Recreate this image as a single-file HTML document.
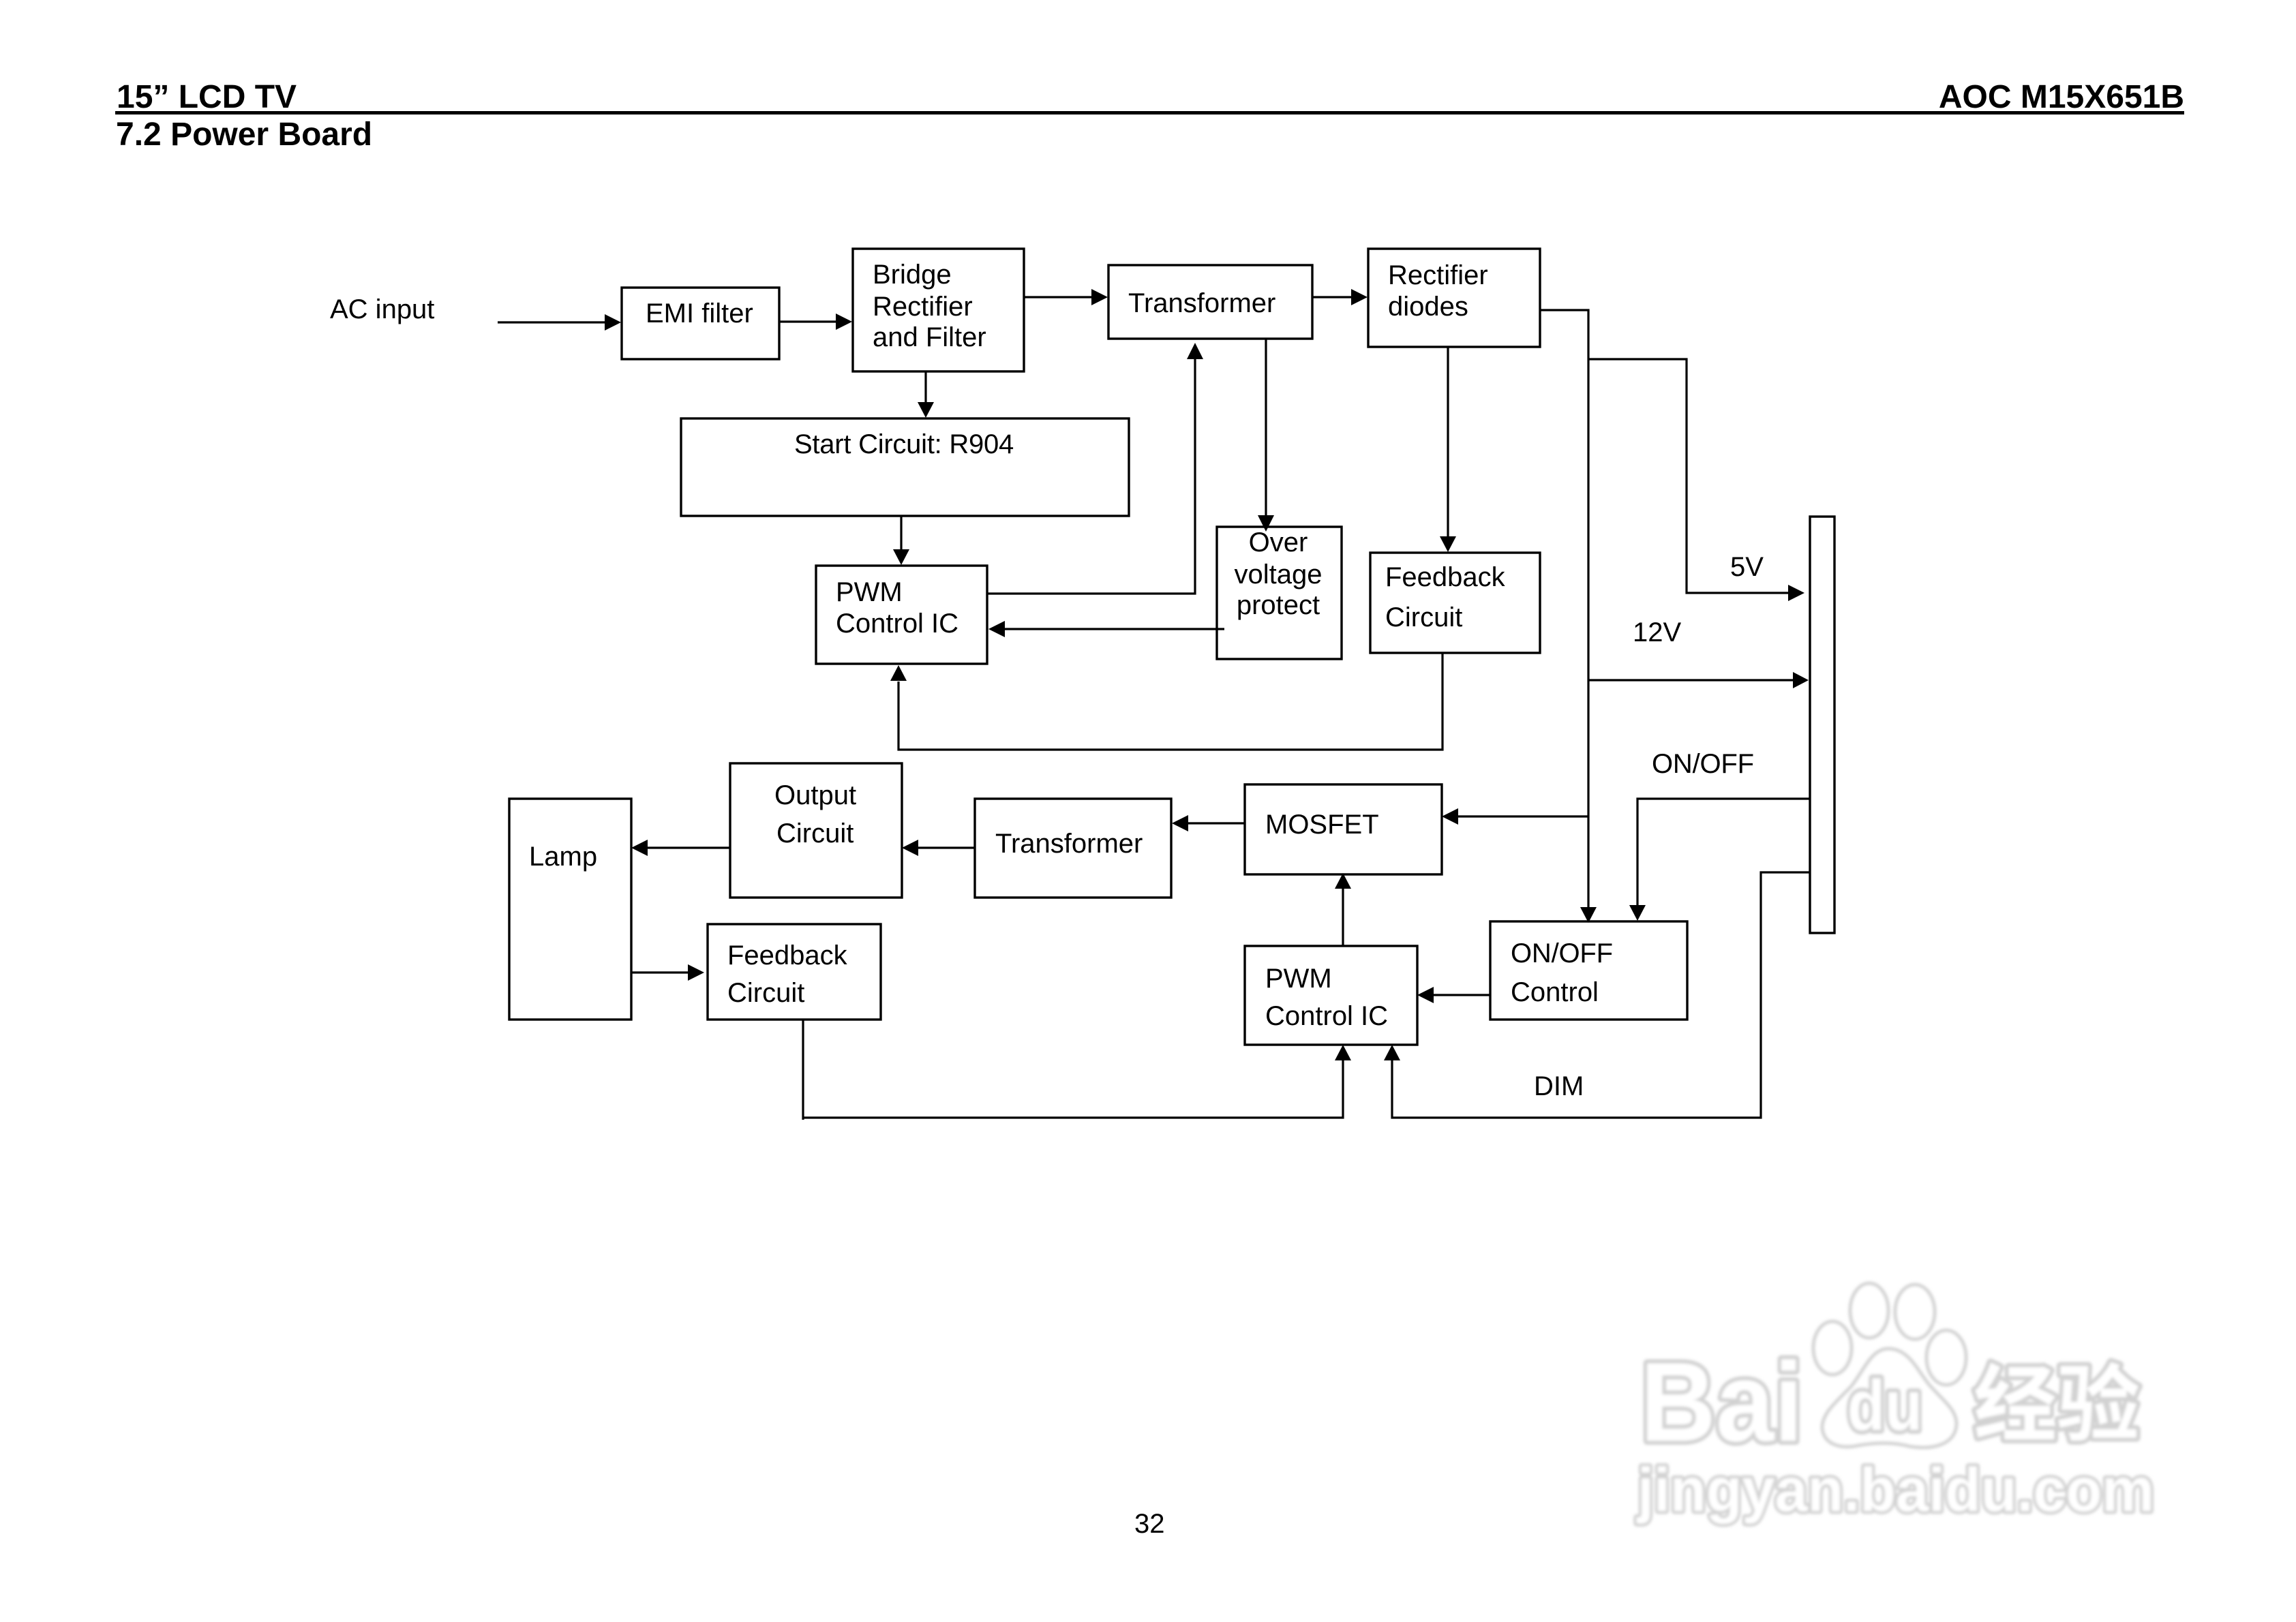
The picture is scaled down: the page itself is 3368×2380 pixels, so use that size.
<!DOCTYPE html>
<html>
<head>
<meta charset="utf-8">
<title>7.2 Power Board</title>
<style>
html,body{margin:0;padding:0;background:#fff;}
svg{display:block;}
text{font-family:"Liberation Sans",sans-serif;fill:#000;}
.t{font-size:40px;}
.h{font-size:48px;font-weight:bold;}
.b rect{fill:none;stroke:#000;stroke-width:3.4;}
.l path{fill:none;stroke:#000;stroke-width:3.2;}
.wm ellipse,.wm path{fill:#fff;stroke:#d2d2d2;stroke-width:5;}
.wm text{fill:#fff;stroke:#d2d2d2;stroke-width:12;stroke-linejoin:round;paint-order:stroke;}
.wm text.s{stroke-width:9;}
</style>
</head>
<body>
<svg width="3368" height="2380" viewBox="0 0 3368 2380" xmlns="http://www.w3.org/2000/svg">
<defs><filter id="bl" x="-5%" y="-5%" width="110%" height="110%"><feGaussianBlur stdDeviation="2.2"/></filter></defs>
<rect width="3368" height="2380" fill="#fff"/>

<!-- watermark -->
<g class="wm" filter="url(#bl)">
  <ellipse cx="2688" cy="1978" rx="28" ry="39"/>
  <ellipse cx="2742" cy="1923" rx="28" ry="40"/>
  <ellipse cx="2809" cy="1925" rx="29" ry="40"/>
  <ellipse cx="2855" cy="1992" rx="29" ry="40"/>
  <path d="M2770 1979 C2745 1979 2735 2010 2715 2035 C2690 2060 2673 2075 2673 2095 C2675 2120 2700 2125 2720 2122 C2745 2117 2775 2115 2800 2122 C2835 2128 2868 2120 2870 2090 C2870 2068 2850 2055 2830 2032 C2812 2010 2800 1979 2770 1979 Z"/>
  <text x="2406" y="2114" font-size="165" font-weight="bold" textLength="239" lengthAdjust="spacingAndGlyphs">Bai</text>
  <text x="2710" y="2098" font-size="104" font-weight="bold" textLength="110" lengthAdjust="spacingAndGlyphs">du</text>
  <text x="2895" y="2104" font-size="122" font-weight="bold" style="font-family:'Noto Sans CJK SC',sans-serif">经验</text>
  <text class="s" x="2402" y="2217" font-size="90" font-weight="bold" textLength="758" lengthAdjust="spacingAndGlyphs">jingyan.baidu.com</text>
</g>

<!-- header -->
<text class="h" x="171" y="158">15” LCD TV</text>
<text class="h" x="3204" y="158" text-anchor="end">AOC M15X651B</text>
<rect x="169" y="163" width="3035" height="5" fill="#000"/>
<text class="h" x="170" y="213">7.2 Power Board</text>

<!-- boxes -->
<g class="b">
  <rect x="912" y="422" width="231" height="105"/>
  <rect x="1251" y="365" width="251" height="180"/>
  <rect x="1626" y="389" width="299" height="108"/>
  <rect x="2007" y="365" width="252" height="144"/>
  <rect x="999" y="614" width="657" height="143"/>
  <rect x="1197" y="830" width="251" height="144"/>
  <rect x="1785" y="773" width="183" height="194"/>
  <rect x="2010" y="811" width="249" height="147"/>
  <rect x="2655" y="758" width="36" height="611"/>
  <rect x="1071" y="1120" width="252" height="197"/>
  <rect x="747" y="1172" width="179" height="324"/>
  <rect x="1430" y="1172" width="288" height="145"/>
  <rect x="1826" y="1151" width="289" height="132"/>
  <rect x="1038" y="1356" width="254" height="140"/>
  <rect x="1826" y="1388" width="253" height="145"/>
  <rect x="2186" y="1352" width="289" height="144"/>
</g>

<!-- connectors -->
<g class="l">
  <path d="M730 473H890"/>
  <path d="M1143 472H1230"/>
  <path d="M1503 436H1605"/>
  <path d="M1925 436H1990"/>
  <path d="M1358 545V595"/>
  <path d="M1322 757V810"/>
  <path d="M1449 871H1753V520"/>
  <path d="M1857 497V760"/>
  <path d="M1796 923H1470"/>
  <path d="M2124 509V795"/>
  <path d="M2116 958V1100H1318V1000"/>
  <path d="M2259 455H2330V1335"/>
  <path d="M2330 527H2474V870H2630"/>
  <path d="M2330 998H2635"/>
  <path d="M2330 1198H2135"/>
  <path d="M2655 1172H2402V1330"/>
  <path d="M2655 1280H2583V1640H2042V1555"/>
  <path d="M2186 1460H2100"/>
  <path d="M1970 1388V1300"/>
  <path d="M1826 1208H1740"/>
  <path d="M1430 1244H1345"/>
  <path d="M1071 1244H945"/>
  <path d="M926 1427H1012"/>
  <path d="M1178 1496V1643"/>
  <path d="M1178 1640H1970V1555"/>
</g>

<!-- arrowheads -->
<g fill="#000">
  <polygon points="887,461 911,473 887,485"/>
  <polygon points="1226,460 1250,472 1226,484"/>
  <polygon points="1601,424 1625,436 1601,448"/>
  <polygon points="1982,424 2006,436 1982,448"/>
  <polygon points="1346,590 1358,613 1370,590"/>
  <polygon points="1310,806 1322,829 1334,806"/>
  <polygon points="1741,527 1753,503 1765,527"/>
  <polygon points="1845,756 1857,780 1869,756"/>
  <polygon points="1474,911 1450,923 1474,935"/>
  <polygon points="2112,787 2124,810 2136,787"/>
  <polygon points="1306,999 1318,976 1330,999"/>
  <polygon points="2318,1331 2330,1354 2342,1331"/>
  <polygon points="2623,858 2647,870 2623,882"/>
  <polygon points="2630,986 2653,998 2630,1010"/>
  <polygon points="2139,1186 2115,1198 2139,1210"/>
  <polygon points="2390,1328 2402,1351 2414,1328"/>
  <polygon points="2030,1556 2042,1533 2054,1556"/>
  <polygon points="2103,1448 2079,1460 2103,1472"/>
  <polygon points="1958,1304 1970,1281 1982,1304"/>
  <polygon points="1743,1196 1719,1208 1743,1220"/>
  <polygon points="1347,1232 1323,1244 1347,1256"/>
  <polygon points="950,1232 926,1244 950,1256"/>
  <polygon points="1009,1415 1033,1427 1009,1439"/>
  <polygon points="1958,1556 1970,1533 1982,1556"/>
</g>

<!-- labels -->
<g class="t">
  <text class="t" x="484" y="467">AC input</text>
  <text class="t" x="947" y="473">EMI filter</text>
  <text class="t" x="1280" y="416">Bridge</text>
  <text class="t" x="1280" y="463">Rectifier</text>
  <text class="t" x="1280" y="508">and Filter</text>
  <text class="t" x="1655" y="458">Transformer</text>
  <text class="t" x="2036" y="417">Rectifier</text>
  <text class="t" x="2036" y="463">diodes</text>
  <text class="t" x="1165" y="665" letter-spacing="-0.25">Start Circuit: R904</text>
  <text class="t" x="1226" y="882">PWM</text>
  <text class="t" x="1226" y="928">Control IC</text>
  <text class="t" x="1875" y="809" text-anchor="middle">Over</text>
  <text class="t" x="1875" y="856" text-anchor="middle">voltage</text>
  <text class="t" x="1875" y="901" text-anchor="middle">protect</text>
  <text class="t" x="2032" y="860">Feedback</text>
  <text class="t" x="2032" y="919">Circuit</text>
  <text class="t" x="2538" y="845">5V</text>
  <text class="t" x="2395" y="941">12V</text>
  <text class="t" x="2423" y="1134" letter-spacing="-0.2">ON/OFF</text>
  <text class="t" x="1136" y="1180">Output</text>
  <text class="t" x="1139" y="1236">Circuit</text>
  <text class="t" x="776" y="1270">Lamp</text>
  <text class="t" x="1460" y="1251">Transformer</text>
  <text class="t" x="1856" y="1223">MOSFET</text>
  <text class="t" x="1067" y="1415">Feedback</text>
  <text class="t" x="1067" y="1470">Circuit</text>
  <text class="t" x="1856" y="1449">PWM</text>
  <text class="t" x="1856" y="1504">Control IC</text>
  <text class="t" x="2216" y="1412" letter-spacing="-0.2">ON/OFF</text>
  <text class="t" x="2216" y="1469">Control</text>
  <text class="t" x="2250" y="1607">DIM</text>
  <text class="t" x="1664" y="2249">32</text>
</g>
</svg>
</body>
</html>
